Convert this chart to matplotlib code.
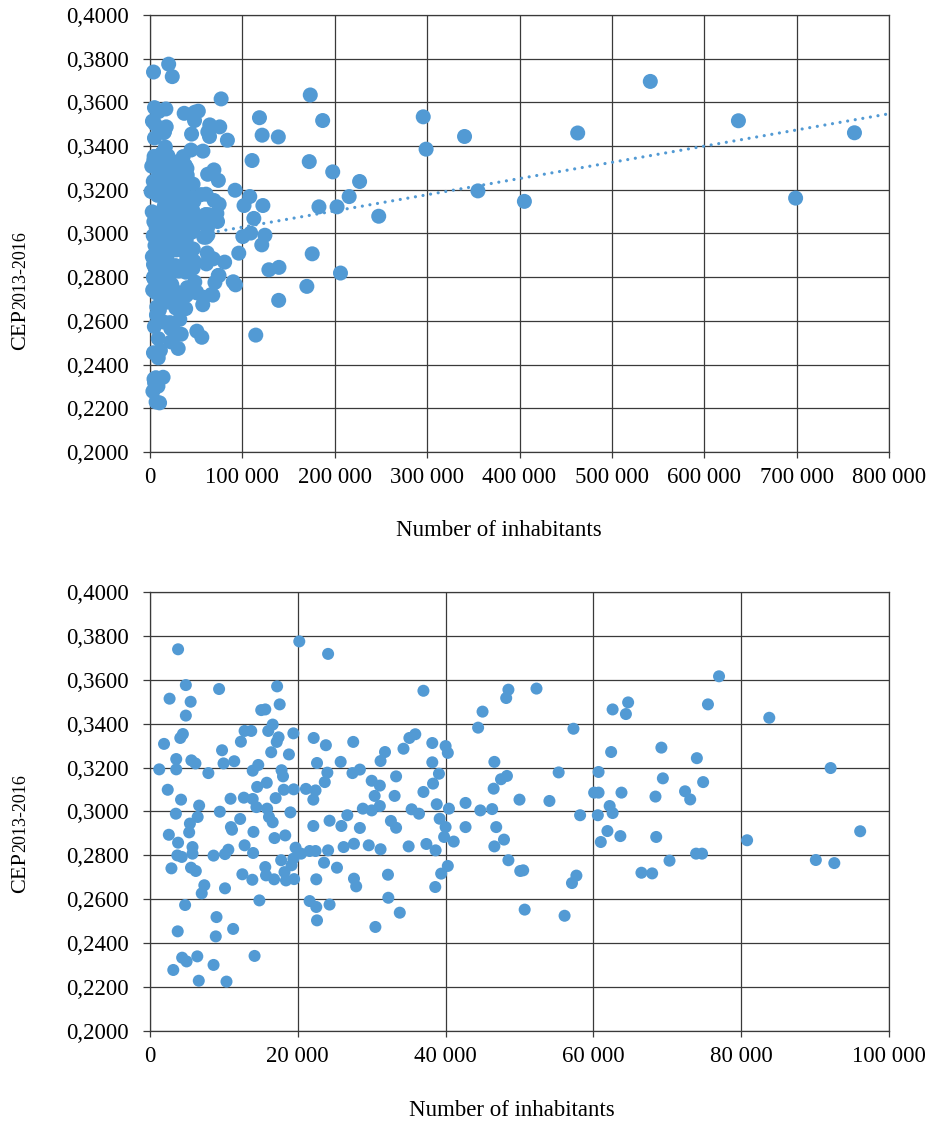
import numpy as np
import matplotlib.pyplot as plt
from matplotlib.ticker import FuncFormatter, MultipleLocator

plt.rcParams['font.family'] = ['Liberation Serif', 'DejaVu Serif']

# municipalities below 100 000 inhabitants (shown in both charts)
small_inh = [
    3800, 20200, 2650, 4850, 5500, 4850, 9350, 1900, 4100, 4450,
    1250, 3550, 3550, 5600, 6150, 7900, 9750, 9950, 11400, 2400,
    4200, 3500, 6650, 6450, 5400, 5300, 2550, 3800, 3700, 4300,
    5750, 5750, 2900, 5550, 6200, 7350, 7000, 4750, 9000, 8900,
    3750, 11250, 4350, 4950, 6400, 3150, 8600, 6600, 10350, 14150,
    9450, 8600, 10150, 10600, 10150, 10900, 10950, 11100, 12200, 12300,
    12800, 13700, 12800, 12500, 13950, 14000, 13850, 14800, 12700, 13900,
    14400, 14500, 14650, 13900, 15050, 15600, 17200, 17550, 16600, 16000,
    17400, 17150, 16400, 18800, 19400, 17800, 18000, 15800, 17000, 18100,
    19450, 15850, 16100, 16600, 19000, 16850, 18300, 15600, 15700, 16800,
    17750, 18200, 18400, 19150, 19500, 19700, 19400, 20450, 21100, 22400,
    22100, 22100, 22150, 22600, 21600, 22400, 22500, 21600, 22500, 22600,
    24100, 37000, 23800, 24000, 23650, 24300, 25900, 26700, 28400, 27500,
    25800, 27400, 28400, 30000, 31100, 30400, 28800, 30000, 31100, 31800,
    31200, 33300, 33100, 34300, 35100, 35900, 38200, 40000, 40300, 38200,
    39100, 38300, 37000, 38800, 40450, 35400, 36400, 39200, 40000, 39800,
    41100, 32600, 33300, 26200, 27600, 29600, 31200, 35000, 37400, 38650,
    24100, 23550, 25300, 27600, 27900, 32200, 32250, 33800, 30500, 24300,
    38600, 39400, 40300, 42700, 42700, 44700, 46300, 44400, 45000, 48200,
    48500, 52300, 46600, 46500, 47500, 48300, 50000, 54050, 55300, 46850,
    46600, 47900, 48500, 50100, 50500, 50700, 56100, 57300, 57100, 57700,
    58200, 60700, 60100, 60700, 60600, 61000, 61900, 62200, 62600, 62400,
    62600, 63800, 63650, 64700, 64400, 68400, 69400, 69200, 68500, 70300,
    66500, 67950, 72400, 73100, 74000, 74850, 73900, 74700, 75500, 77000,
    80800, 83800, 92100, 90100, 92600, 96100,
]
small_cep = [
    0.3739, 0.3775, 0.3514, 0.3576, 0.3500, 0.3437, 0.3558, 0.3308, 0.3335, 0.3353,
    0.3192, 0.3239, 0.3192, 0.3233, 0.3219, 0.3175, 0.3279, 0.3219, 0.3229, 0.3099,
    0.3054, 0.2990, 0.3027, 0.2975, 0.2945, 0.2905, 0.2894, 0.2858, 0.2800, 0.2793,
    0.2838, 0.2808, 0.2741, 0.2744, 0.2729, 0.2664, 0.2627, 0.2574, 0.2519, 0.2431,
    0.2454, 0.2465, 0.2334, 0.2317, 0.2340, 0.2278, 0.2301, 0.2229, 0.2225, 0.2342,
    0.2999, 0.2799, 0.2806, 0.2826, 0.2650, 0.3058, 0.2929, 0.2917, 0.2966, 0.3318,
    0.3367, 0.3367, 0.2846, 0.2714, 0.2811, 0.2907, 0.2689, 0.2595, 0.3063, 0.3057,
    0.3020, 0.3112, 0.3212, 0.3186, 0.3462, 0.3465, 0.3570, 0.3488, 0.3396, 0.3367,
    0.3338, 0.3317, 0.3270, 0.3260, 0.3356, 0.3188, 0.3160, 0.3131, 0.3061, 0.3099,
    0.3101, 0.3013, 0.2975, 0.2951, 0.2996, 0.2879, 0.2891, 0.2747, 0.2709, 0.2691,
    0.2778, 0.2724, 0.2686, 0.2755, 0.2692, 0.2835, 0.2785, 0.2808, 0.3103, 0.3096,
    0.3054, 0.2934, 0.3335, 0.3221, 0.2820, 0.2820, 0.2691, 0.2592, 0.2565, 0.2504,
    0.3718, 0.3550, 0.3302, 0.3177, 0.3134, 0.2958, 0.2934, 0.2983, 0.2925, 0.3317,
    0.3226, 0.3175, 0.3191, 0.3140, 0.3118, 0.3071, 0.3013, 0.3005, 0.3025, 0.3271,
    0.3230, 0.3160, 0.3071, 0.3286, 0.3335, 0.3352, 0.3312, 0.3298, 0.3267, 0.3224,
    0.3172, 0.3127, 0.3089, 0.3033, 0.3013, 0.3010, 0.2990, 0.2967, 0.2929, 0.2884,
    0.2863, 0.2957, 0.2926, 0.2838, 0.2853, 0.2846, 0.2828, 0.2841, 0.2852, 0.2823,
    0.2823, 0.2767, 0.2744, 0.2694, 0.2659, 0.2712, 0.2607, 0.2539, 0.2474, 0.2576,
    0.2656, 0.2717, 0.2752, 0.3039, 0.2929, 0.3005, 0.3011, 0.3382, 0.3455, 0.3517,
    0.3555, 0.3560, 0.3226, 0.3104, 0.3147, 0.3162, 0.3054, 0.3048, 0.3178, 0.2929,
    0.2841, 0.2872, 0.2778, 0.2729, 0.2732, 0.2553, 0.2525, 0.3377, 0.2674, 0.2708,
    0.2983, 0.3180, 0.3086, 0.3086, 0.2983, 0.2861, 0.2911, 0.3025, 0.2993, 0.3271,
    0.3465, 0.3086, 0.2888, 0.3497, 0.3444, 0.3068, 0.3151, 0.3291, 0.2884, 0.2776,
    0.2721, 0.2718, 0.3092, 0.3055, 0.3243, 0.3134, 0.2808, 0.2808, 0.3488, 0.3616,
    0.2869, 0.3427, 0.3198, 0.2779, 0.2765, 0.2910,
]

# larger municipalities (top chart only)
large_inh = [
    173500, 186900, 118500, 121400, 138900, 110500, 172400, 197800, 226900, 215600,
    202500, 182900, 122200, 108000, 101800, 112400, 247600, 100500, 109000, 124400,
    121000, 175600, 128700, 139600, 206200, 169800, 139300, 114500, 295800, 298900,
    340500, 355000, 405300, 463000, 541600, 637000, 698900, 762600,
]
large_cep = [
    0.3634, 0.3517, 0.3530, 0.3450, 0.3442, 0.3334, 0.3329, 0.3282, 0.3238, 0.3169,
    0.3122, 0.3122, 0.3128, 0.3169, 0.3128, 0.3069, 0.3079, 0.2986, 0.3002, 0.2992,
    0.2948, 0.2907, 0.2834, 0.2845, 0.2819, 0.2758, 0.2694, 0.2535, 0.3534, 0.3386,
    0.3444, 0.3195, 0.3147, 0.3460, 0.3696, 0.3516, 0.3162, 0.3461,
]

# linear trend line of the top chart, read at its two ends
trend_inh = [0, 800000]
trend_cep = [0.2955, 0.3548]

all_inh = small_inh + large_inh
all_cep = small_cep + large_cep

blue = '#529AD4'
grid_c = '#3a3a3a'
W, H = 931, 1123

fig = plt.figure(figsize=(W / 100, H / 100), dpi=100)
ax1 = fig.add_axes([150 / W, 1 - 452 / H, 739 / W, 437 / H])
ax2 = fig.add_axes([150 / W, 1 - 1031 / H, 739 / W, 439 / H])


def fmt_x(v, pos):
    return '{:,}'.format(int(round(v))).replace(',', ' ')


def fmt_y(v, pos):
    return '{:.4f}'.format(v).replace('.', ',')


def style(ax, xmax, xstep):
    ax.set_xlim(0, xmax)
    ax.set_ylim(0.2, 0.4)
    ax.xaxis.set_major_locator(MultipleLocator(xstep))
    ax.yaxis.set_major_locator(MultipleLocator(0.02))
    ax.xaxis.set_major_formatter(FuncFormatter(fmt_x))
    ax.yaxis.set_major_formatter(FuncFormatter(fmt_y))
    ax.grid(True, color=grid_c, linewidth=0.9)
    ax.set_axisbelow(True)
    for s in ax.spines.values():
        s.set_color(grid_c)
        s.set_linewidth(0.9)
    ax.tick_params(axis='x', direction='out', length=4.5, width=0.9, color=grid_c,
                   labelsize=16.5, pad=6)
    ax.tick_params(axis='y', direction='out', length=5, width=0.9, color=grid_c,
                   labelsize=16.5, pad=10)


style(ax1, 800000, 100000)
style(ax2, 100000, 20000)

ax1.scatter(all_inh, all_cep, s=117, color=blue, edgecolors='none', zorder=3, clip_on=False)
ax1.plot(trend_inh, trend_cep, color=blue, linewidth=2.3, linestyle=(0, (0.01, 2.4)),
         dash_capstyle='round', zorder=2)

ax2.scatter(small_inh, small_cep, s=75, color=blue, edgecolors='none', zorder=3)

fig.text(499 / W, 1 - 530 / H, 'Number of inhabitants', ha='center', va='center', fontsize=16.5)
fig.text(512 / W, 1 - 1110 / H, 'Number of inhabitants', ha='center', va='center', fontsize=16.5)

# y label: "CEP" with smaller 2013-2016 part
renderer = fig.canvas.get_renderer()
for y_bottom in (350, 893):
    t = fig.text(30 / W, 1 - y_bottom / H, 'CEP', rotation=90, ha='right', va='bottom',
                 fontsize=16)
    bb = t.get_window_extent(renderer)
    fig.text(29 / W, bb.y1 / H, '2013-2016', rotation=90, ha='right', va='bottom',
             fontsize=13)

fig.savefig('out.png', dpi=100)
